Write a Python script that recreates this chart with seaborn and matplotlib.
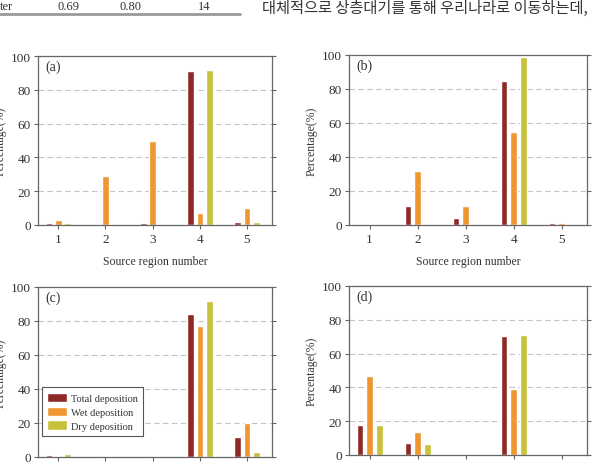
import matplotlib
matplotlib.use("Agg")
import matplotlib.pyplot as plt
import pandas as pd
import seaborn as sns

REGIONS = ["1", "2", "3", "4", "5"]
TYPES = ["Total deposition", "Wet deposition", "Dry deposition"]
COLORS = ["#8e2a25", "#f0962f", "#c7c23a"]

# percentage per source region: total, wet, dry
A_TOTAL = [1.0, 0.5, 1.0, 91.0, 2.0]
A_WET = [3.0, 29.0, 50.0, 7.0, 10.0]
A_DRY = [1.0, 0.0, 0.0, 92.0, 2.0]

B_TOTAL = [0.0, 11.0, 4.0, 85.0, 1.0]
B_WET = [0.0, 32.0, 11.0, 55.0, 1.0]
B_DRY = [0.0, 0.3, 0.0, 99.0, 0.5]

C_TOTAL = [1.0, 0.8, 0.3, 84.0, 12.0]
C_WET = [0.5, 0.5, 0.5, 77.0, 20.0]
C_DRY = [2.0, 0.5, 0.0, 92.0, 3.0]

D_TOTAL = [18.0, 7.0, 0.0, 70.5, 0.0]
D_WET = [47.0, 13.5, 0.0, 39.0, 0.0]
D_DRY = [17.5, 6.5, 0.0, 71.0, 0.0]

HEADER_CELLS = ["ter", "0.69", "0.80", "14"]
HEADER_TEXT = "대체적으로 상층대기를 통해 우리나라로 이동하는데,"


def long_frame(total, wet, dry):
    rows = []
    for name, vals in zip(TYPES, [total, wet, dry]):
        for r, v in zip(REGIONS, vals):
            rows.append({"region": r, "pct": v, "type": name})
    return pd.DataFrame(rows)


sns.set_theme(style="white")
plt.rcParams["font.family"] = ["Liberation Serif", "DejaVu Serif"]

W, H = 604, 464
fig = plt.figure(figsize=(W / 100, H / 100), dpi=100)


def px_axes(left, top, right, bottom):
    return fig.add_axes([left / W, 1 - bottom / H, (right - left) / W, (bottom - top) / H])


panels = [
    ("(a)", (A_TOTAL, A_WET, A_DRY), (38, 57, 272, 226), True, False),
    ("(b)", (B_TOTAL, B_WET, B_DRY), (349, 56, 587, 226), True, False),
    ("(c)", (C_TOTAL, C_WET, C_DRY), (38, 288, 272, 458), False, True),
    ("(d)", (D_TOTAL, D_WET, D_DRY), (349, 287, 587, 456), False, False),
]

for tag, vals, box, xlabel, legend in panels:
    ax = px_axes(*box)
    df = long_frame(*vals)
    sns.barplot(
        data=df, x="region", y="pct", hue="type", order=REGIONS,
        hue_order=TYPES, palette=COLORS, width=0.6, gap=0.3,
        saturation=1, errorbar=None, legend=legend, ax=ax,
    )
    ax.set_ylim(0, 100)
    ax.set_xlim(-0.43, 4.53)
    ax.set_yticks([0, 20, 40, 60, 80, 100])
    for y in [20, 40, 60, 80]:
        ax.axhline(y, color="#c4c4c4", lw=0.8, ls=(0, (5, 3)), zorder=0)
    for sp in ax.spines.values():
        sp.set_color("#666666")
        sp.set_linewidth(0.9)
    ax.tick_params(axis="y", direction="out", length=3, width=0.8, color="#666666",
                   labelsize=9.5, labelcolor="#333333", right=True, left=True, pad=2)
    ax.tick_params(axis="x", direction="out", length=3, width=0.8, color="#666666",
                   labelsize=9.5, labelcolor="#333333", bottom=True, pad=3)
    ax.set_ylabel("Percentage(%)", fontsize=8.5, color="#333333", labelpad=3)
    if xlabel:
        ax.set_xlabel("Source region number", fontsize=8.5, color="#333333", labelpad=7)
    else:
        ax.set_xlabel("")
    ax.text(0.03, 0.94, tag, transform=ax.transAxes, fontsize=10,
            color="#333333", va="center", ha="left")
    if legend:
        leg = ax.legend(loc="lower left", bbox_to_anchor=(0.0, 0.1), fontsize=7.5,
                        frameon=True, fancybox=False, framealpha=1,
                        edgecolor="#555555", handlelength=1.9, handleheight=1.0,
                        handletextpad=0.4, labelspacing=0.35, borderpad=0.5,
                        borderaxespad=0.4, title=None)
        leg.get_frame().set_linewidth(0.8)
        for t in leg.get_texts():
            t.set_color("#333333")

# fragment of the page above the figure
hx = [0, 58, 120, 198]
for x, s in zip(hx, HEADER_CELLS):
    fig.text(x / W, 1 - 7 / H, s, fontsize=9, color="#333333", va="center", ha="left")
fig.add_artist(plt.Line2D([0, 240 / W], [1 - 15 / H, 1 - 15 / H], color="#999999",
                          lw=2, transform=fig.transFigure))
fig.text(262 / W, 1 - 8 / H, HEADER_TEXT, fontsize=11, color="#333333",
         va="center", ha="left", family=["Noto Sans CJK KR", "DejaVu Sans"])

fig.savefig("out.png", dpi=100)
